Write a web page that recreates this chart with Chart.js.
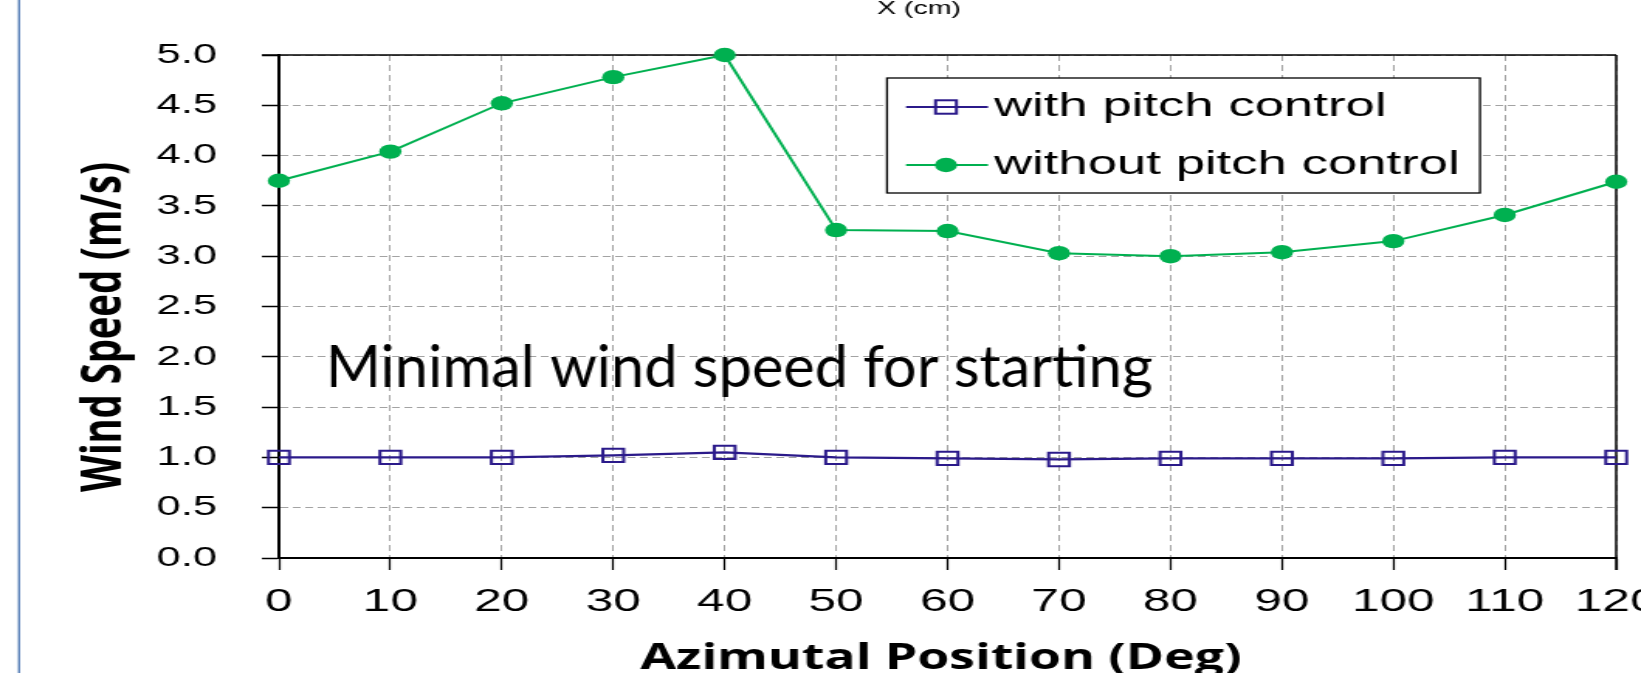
<!DOCTYPE html>
<html>
<head>
<meta charset="utf-8">
<script src="https://cdn.jsdelivr.net/npm/chart.js@4.4.1/dist/chart.umd.min.js"></script>
<style>
  html, body { margin: 0; padding: 0; background: #fff; overflow: hidden; }
  canvas { display: block; }
</style>
</head>
<body>
<!-- the source figure is stretched sideways, so the canvas is drawn narrow and widened by CSS -->
<canvas id="chart" width="1059" height="673" style="width:1641px;height:673px"></canvas>
<script>
const STRETCH = 1641 / 1059;

const angles = [0, 10, 20, 30, 40, 50, 60, 70, 80, 90, 100, 110, 120];
const withPitch = [1.0, 1.0, 1.0, 1.02, 1.05, 1.0, 0.99, 0.98, 0.99, 0.99, 0.99, 1.0, 1.0];
const withoutPitch = [3.75, 4.04, 4.52, 4.78, 5.0, 3.26, 3.25, 3.03, 3.0, 3.04, 3.15, 3.41, 3.74];
const seriesNames = ["with pitch control", "without pitch control"];
const Y_MAX = 5, Y_STEP = 0.5, X_STEP = 10;

const NOTE = { text: "Minimal wind speed for starting", x: 4.2, y: 1.7 };
const BLUE = "#2b1a8a", GREEN = "#00b050", GRID = "#a3a3a3";

const points = vals => angles.map((a, i) => ({ x: a, y: vals[i] }));

// text drawn at a set on-screen width, undoing the sideways stretch
function fitted(ctx, text, x, y, width, align) {
  const w = ctx.measureText(text).width;
  ctx.save();
  ctx.translate(x, y);
  ctx.scale(width / w, 1);
  ctx.textAlign = align;
  ctx.fillText(text, 0, 0);
  ctx.restore();
}

const extras = {
  id: "extras",
  beforeDraw(chart) {
    const { ctx, width, height } = chart;
    ctx.save();
    ctx.fillStyle = "#fff";
    ctx.fillRect(0, 0, width, height);
    ctx.strokeStyle = "#4a76b2";
    ctx.lineWidth = 2 / STRETCH;
    ctx.beginPath();
    ctx.moveTo(19 / STRETCH, 0);
    ctx.lineTo(19 / STRETCH, height);
    ctx.stroke();
    ctx.restore();
  },
  beforeDatasetsDraw(chart) {
    const { ctx, chartArea: a } = chart;
    ctx.save();
    ctx.strokeStyle = "#000";
    ctx.lineWidth = 1.5;
    ctx.beginPath();
    ctx.moveTo(a.left - 11, a.top);
    ctx.lineTo(a.right, a.top);
    ctx.stroke();
    ctx.beginPath();
    ctx.moveTo(a.right, a.top);
    ctx.lineTo(a.right, a.bottom + 12);
    ctx.stroke();
    ctx.restore();
  },
  afterDatasetsDraw(chart) {
    const { ctx } = chart;
    // legend box
    const L = 887 / STRETCH, R = 1480 / STRETCH, T = 78, B = 193;
    ctx.save();
    ctx.fillStyle = "#fff";
    ctx.fillRect(L, T, R - L, B - T);
    ctx.strokeStyle = "#000";
    ctx.lineWidth = 1.3;
    ctx.strokeRect(L, T, R - L, B - T);
    const rows = [107, 165];
    const x1 = 906 / STRETCH, x2 = 988 / STRETCH, xm = 946 / STRETCH, xt = 994 / STRETCH;
    chart.data.datasets.forEach((ds, i) => {
      const y = rows[i];
      ctx.strokeStyle = ds.borderColor;
      ctx.lineWidth = ds.borderWidth;
      ctx.beginPath();
      ctx.moveTo(x1, y);
      ctx.lineTo(x2, y);
      ctx.stroke();
      if (ds.pointStyle === "rect") {
        const s = ds.pointRadius * Math.SQRT1_2;
        ctx.lineWidth = ds.pointBorderWidth;
        ctx.strokeRect(xm - s, y - s, 2 * s, 2 * s);
      } else {
        ctx.fillStyle = ds.pointBackgroundColor;
        ctx.beginPath();
        ctx.arc(xm, y, ds.pointRadius, 0, Math.PI * 2);
        ctx.fill();
      }
      ctx.fillStyle = "#000";
      ctx.font = "34px 'Liberation Sans'";
      ctx.textBaseline = "middle";
      ctx.textAlign = "left";
      ctx.fillText(ds.label, xt, y);
    });
    ctx.restore();
  },
  afterDraw(chart) {
    const { ctx, scales: { x, y } } = chart;
    ctx.save();
    ctx.fillStyle = "#000";
    ctx.textBaseline = "alphabetic";
    // note in the plot
    ctx.font = "58px Lato";
    fitted(ctx, NOTE.text, x.getPixelForValue(NOTE.x), y.getPixelForValue(NOTE.y), 827 / STRETCH, "left");
    // x axis title
    ctx.font = "bold 36px 'Open Sans'";
    fitted(ctx, "Azimutal Position (Deg)", 941 / STRETCH, 669, 601 / STRETCH, "center");
    // leftover label at the top
    ctx.font = "19px 'Liberation Sans'";
    fitted(ctx, "X (cm)", 919 / STRETCH, 14, 84 / STRETCH, "center");
    // y axis title
    ctx.font = "bold 36px 'Open Sans'";
    ctx.translate(121 / STRETCH, 327);
    ctx.rotate(-Math.PI / 2);
    fitted(ctx, "Wind Speed (m/s)", 0, 0, 330, "center");
    ctx.restore();
  }
};

new Chart(document.getElementById("chart"), {
  type: "line",
  data: {
    datasets: [
      {
        label: seriesNames[0],
        data: points(withPitch),
        borderColor: BLUE,
        borderWidth: 2.2,
        pointStyle: "rect",
        pointRadius: 9.5,
        pointBorderWidth: 2,
        pointBorderColor: BLUE,
        pointBackgroundColor: "rgba(0,0,0,0)",
        tension: 0,
        clip: false
      },
      {
        label: seriesNames[1],
        data: points(withoutPitch),
        borderColor: GREEN,
        borderWidth: 2,
        pointStyle: "circle",
        pointRadius: 7.2,
        pointBorderWidth: 0,
        pointBackgroundColor: GREEN,
        pointBorderColor: GREEN,
        tension: 0,
        clip: false
      }
    ]
  },
  options: {
    responsive: false,
    devicePixelRatio: 1,
    animation: false,
    events: [],
    layout: { padding: { top: 55, right: 16, left: 0, bottom: 0 } },
    plugins: { legend: { display: false }, tooltip: { enabled: false } },
    scales: {
      x: {
        type: "linear",
        min: 0,
        max: angles[angles.length - 1],
        ticks: {
          stepSize: X_STEP,
          autoSkip: false,
          maxRotation: 0,
          color: "#000",
          padding: 13,
          font: { family: "Liberation Sans", size: 32 }
        },
        grid: { color: GRID, lineWidth: 1, tickLength: 12, tickColor: "#000", tickWidth: 1.2 },
        border: { color: "#000", width: 2, dash: [6, 4] },
        afterFit(s) { s.height = 115; s.paddingLeft = 0; s.paddingRight = 0; }
      },
      y: {
        min: 0,
        max: Y_MAX,
        ticks: {
          stepSize: Y_STEP,
          color: "#000",
          padding: 29,
          font: { family: "Liberation Sans", size: 28 },
          callback: v => v.toFixed(1)
        },
        grid: { color: GRID, lineWidth: 1, tickLength: 11, tickColor: "#000", tickWidth: 1.5 },
        border: { color: "#000", width: 2, dash: [5, 3] },
        afterFit(s) { s.width = 180; s.paddingTop = 0; s.paddingBottom = 0; }
      }
    }
  },
  plugins: [extras]
});
</script>
</body>
</html>
